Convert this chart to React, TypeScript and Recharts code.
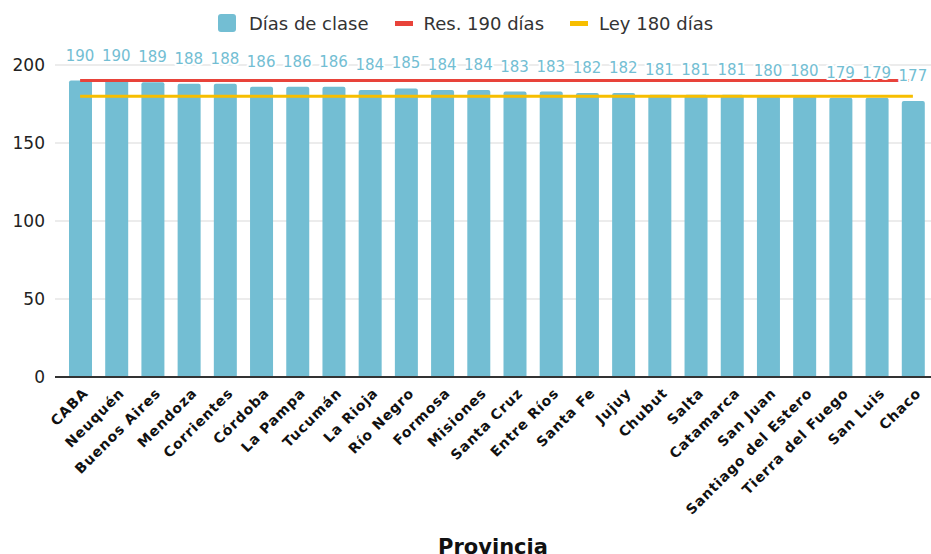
import React from 'react';
import { ComposedChart, Bar, Line, XAxis, YAxis, CartesianGrid, ReferenceLine, LabelList, Legend } from 'recharts';

const provincias = [
  'CABA', 'Neuquén', 'Buenos Aires', 'Mendoza', 'Corrientes', 'Córdoba', 'La Pampa', 'Tucumán',
  'La Rioja', 'Río Negro', 'Formosa', 'Misiones', 'Santa Cruz', 'Entre Ríos', 'Santa Fe', 'Jujuy',
  'Chubut', 'Salta', 'Catamarca', 'San Juan', 'Santiago del Estero', 'Tierra del Fuego', 'San Luis', 'Chaco',
];
const dias = [190, 190, 189, 188, 188, 186, 186, 186, 184, 185, 184, 184, 183, 183, 182, 182, 181, 181, 181, 180, 180, 179, 179, 177];
const yTicks = [0, 50, 100, 150, 200];
const RES_DIAS = 190;
const LEY_DIAS = 180;
const seriesNames = ['Días de clase', 'Res. 190 días', 'Ley 180 días'];

const BAR = '#73bed3';
const RED = '#e8433a';
const YELLOW = '#f7be00';
const FONT = '"DejaVu Sans", Verdana, sans-serif';

const data = provincias.map((p, i) => ({ provincia: p, dias: dias[i] }));

const ProvTick = (props: any) => {
  const { x, y, payload } = props;
  const ax = x + 9;
  const ay = y + 9;
  return (
    <text x={ax} y={ay} transform={`rotate(-45, ${ax}, ${ay})`} textAnchor="end"
      fontSize={14} fontWeight="bold" letterSpacing={0.9} fontFamily={FONT} fill="#111">
      {payload.value}
    </text>
  );
};

const ValueLabel = (props: any) => {
  const { x, y, value } = props;
  return (
    <text x={x} y={y - 20} textAnchor="middle" fontSize={15} fontFamily={FONT} fill={BAR}
      stroke="#fff" strokeWidth={4} paintOrder="stroke" strokeLinejoin="round">
      {value}
    </text>
  );
};

const LegendBox = () => {
  const colors = [BAR, RED, YELLOW];
  return (
    <div style={{ display: 'flex', justifyContent: 'center', alignItems: 'center', height: 30, fontFamily: FONT, fontSize: 18, color: '#333' }}>
      {seriesNames.map((n, i) => (
        <div key={n} style={{ display: 'flex', alignItems: 'center', marginRight: i < 2 ? 26 : 0 }}>
          {i === 0 ? (
            <span style={{ width: 18, height: 18, background: colors[i], borderRadius: 3, marginRight: 13, display: 'inline-block' }} />
          ) : (
            <span style={{ width: 18, height: 5, background: colors[i], marginRight: 11, display: 'inline-block' }} />
          )}
          <span>{n}</span>
        </div>
      ))}
    </div>
  );
};

export default function App() {
  return (
    <div style={{ position: 'absolute', left: 0, top: 0, background: '#fff' }}>
      <ComposedChart width={931} height={554} data={data} margin={{ top: 35, right: 0, left: 0, bottom: 0 }}>
        <CartesianGrid vertical={false} stroke="#d9d9d9" />
        <Legend verticalAlign="top" content={<LegendBox />} wrapperStyle={{ top: 8, left: 0, width: 931 }} />
        <YAxis domain={[0, 200]} ticks={yTicks} width={55} axisLine={false} tickLine={false} tickMargin={4}
          tick={{ fontSize: 17, fill: '#222', fontFamily: FONT }} />
        <XAxis dataKey="provincia" height={177} interval={0} padding={{ left: 7, right: 0 }}
          axisLine={{ stroke: '#333', strokeWidth: 2 }} tickLine={false} tick={<ProvTick />}
          label={{ value: 'Provincia', position: 'insideBottom', offset: 0, fontSize: 21, fontWeight: 'bold', fill: '#111', fontFamily: FONT }} />
        <Bar dataKey="dias" fill={BAR} barSize={23} radius={[2, 2, 0, 0]} isAnimationActive={false} />
        <ReferenceLine segment={[{ x: provincias[0], y: RES_DIAS }, { x: provincias[provincias.length - 1], y: RES_DIAS }]}
          stroke={RED} strokeWidth={3} />
        <ReferenceLine segment={[{ x: provincias[0], y: LEY_DIAS }, { x: provincias[provincias.length - 1], y: LEY_DIAS }]}
          stroke={YELLOW} strokeWidth={3} />
        <Line dataKey="dias" stroke="none" dot={false} activeDot={false} legendType="none" isAnimationActive={false}>
          <LabelList dataKey="dias" content={<ValueLabel />} />
        </Line>
      </ComposedChart>
    </div>
  );
}
